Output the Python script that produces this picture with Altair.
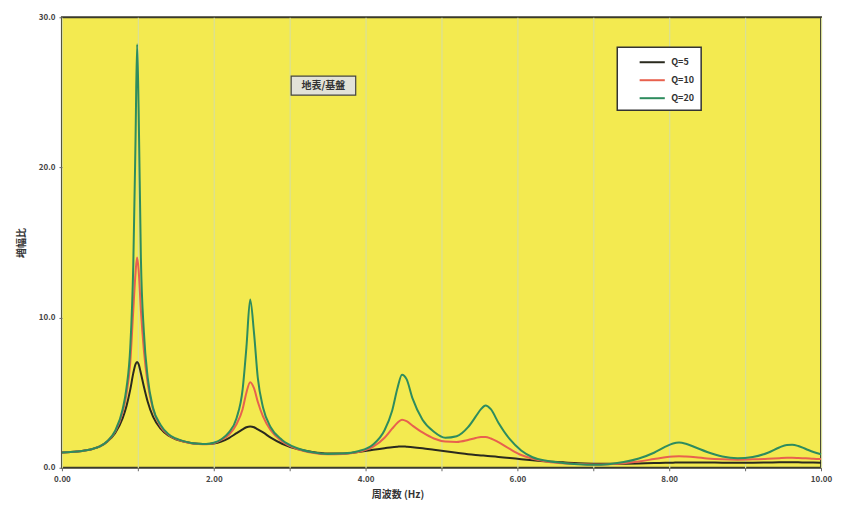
import altair as alt
import pandas as pd

# frequency (Hz)
freq = [0.0, 0.2, 0.4, 0.5, 0.6, 0.7, 0.8, 0.85, 0.9, 0.94, 0.97, 0.99, 1.01, 1.04,
        1.08, 1.13, 1.2, 1.3, 1.4, 1.5, 1.6, 1.7, 1.8, 1.9, 2.0, 2.1, 2.2, 2.3,
        2.38, 2.43, 2.48, 2.53, 2.58, 2.65, 2.75, 2.9, 3.1, 3.3, 3.5, 3.7, 3.9,
        4.1, 4.25, 4.35, 4.42, 4.48, 4.54, 4.62, 4.75, 4.9, 5.05, 5.2, 5.35,
        5.45, 5.52, 5.58, 5.65, 5.75, 5.9, 6.05, 6.2, 6.4, 6.6, 6.8, 7.0, 7.2,
        7.4, 7.6, 7.8, 7.95, 8.05, 8.13, 8.22, 8.35, 8.5, 8.7, 8.9, 9.1, 9.3,
        9.45, 9.55, 9.62, 9.7, 9.8, 9.9, 10.0]

q5 = [1.02, 1.08, 1.25, 1.42, 1.75, 2.3, 3.3, 4.1, 5.2, 6.3, 6.9, 7.05, 6.9, 6.3,
      5.4, 4.4, 3.4, 2.6, 2.15, 1.9, 1.75, 1.65, 1.6, 1.58, 1.62, 1.75, 1.98, 2.3,
      2.55, 2.7, 2.75, 2.7, 2.55, 2.35, 2.0, 1.6, 1.25, 1.05, 0.95, 0.95, 1.05,
      1.2, 1.3, 1.37, 1.4, 1.42, 1.4, 1.37, 1.3, 1.2, 1.1, 1.0, 0.9,
      0.85, 0.82, 0.8, 0.77, 0.72, 0.65, 0.57, 0.5, 0.42, 0.36, 0.3, 0.27, 0.26,
      0.27, 0.29, 0.31, 0.33, 0.34, 0.35, 0.35, 0.35, 0.35, 0.34, 0.34, 0.34, 0.35,
      0.36, 0.36, 0.36, 0.36, 0.35, 0.35, 0.34]

q10 = [1.02, 1.08, 1.25, 1.42, 1.77, 2.4, 3.7, 4.9, 7.0, 10.5, 13.0, 14.0, 13.2, 10.5,
       7.8, 5.6, 3.9, 2.75, 2.2, 1.92, 1.75, 1.63, 1.58, 1.56, 1.63, 1.85, 2.2, 2.9,
       3.9, 5.0, 5.7, 5.3, 4.4, 3.4, 2.5, 1.75, 1.25, 1.0, 0.9, 0.92, 1.05,
       1.4, 2.0, 2.6, 3.0, 3.2, 3.1, 2.8, 2.35, 1.95, 1.75, 1.72, 1.85,
       1.98, 2.05, 2.05, 1.95, 1.7, 1.25, 0.85, 0.6, 0.4, 0.3, 0.25, 0.22, 0.24,
       0.3, 0.42, 0.58, 0.7, 0.75, 0.77, 0.75, 0.7, 0.62, 0.56, 0.54, 0.56, 0.6,
       0.64, 0.66, 0.66, 0.65, 0.63, 0.6, 0.58]

q20 = [1.02, 1.08, 1.25, 1.42, 1.78, 2.45, 3.9, 5.3, 8.0, 13.5, 22.0, 28.2, 24.0, 14.0,
       9.0, 6.0, 4.0, 2.85, 2.25, 1.95, 1.77, 1.65, 1.6, 1.58, 1.66, 1.9, 2.35, 3.3,
       5.2, 8.0, 11.2, 9.0, 6.0, 4.0, 2.7, 1.85, 1.3, 1.03, 0.92, 0.95, 1.1,
       1.55, 2.5, 3.8, 5.3, 6.2, 5.9, 4.6, 3.2, 2.4, 2.0, 2.1, 2.7,
       3.4, 3.9, 4.15, 3.9, 3.0, 1.9, 1.15, 0.7, 0.45, 0.32, 0.24, 0.2, 0.24,
       0.38, 0.62, 1.0, 1.4, 1.62, 1.68, 1.6, 1.35, 1.05, 0.75, 0.64, 0.72, 1.0,
       1.35, 1.52, 1.53, 1.45, 1.25, 1.05, 0.9]

series = ["Q=5", "Q=10", "Q=20"]
series_colors = ["#2a2a1e", "#e8614e", "#2e8c5e"]

x_ticks = [0, 1, 2, 3, 4, 5, 6, 7, 8, 9, 10]
y_ticks = [0, 10, 20, 30]

note_text = ["地表/基盤"]
note_x = [3.02]
note_x2 = [3.87]
note_y = [24.82]
note_y2 = [26.08]

rows = []
for name, vals in zip(series, [q5, q10, q20]):
    for f, v in zip(freq, vals):
        rows.append({"f": f, "v": v, "Q": name})
df = pd.DataFrame(rows)

note_df = pd.DataFrame({"t": note_text, "x": note_x, "x2": note_x2,
                        "y": note_y, "y2": note_y2})
note_df["xm"] = (note_df["x"] + note_df["x2"]) / 2
note_df["ym"] = (note_df["y"] + note_df["y2"]) / 2

xscale = alt.Scale(domain=[0, 10], nice=False)
yscale = alt.Scale(domain=[0, 30], nice=False)

lines = alt.Chart(df).mark_line(strokeWidth=2, interpolate="monotone").encode(
    x=alt.X("f:Q", scale=xscale,
            axis=alt.Axis(values=x_ticks, grid=True, gridColor="#d9df98", gridWidth=1.2,
                          labelExpr="datum.value % 2 == 0 ? format(datum.value, '.2f') : ''",
                          title="周波数 (Hz)", titleFontSize=10, titleFontWeight="bold",
                          titleColor="#333333", titlePadding=6, titleX=336,
                          labelFontSize=8, labelFontWeight="bold", labelColor="#444444",
                          tickSize=3, tickColor="#666666", labelPadding=5, domain=False,
                          labelFlush=False)),
    y=alt.Y("v:Q", scale=yscale,
            axis=alt.Axis(values=y_ticks, grid=False, format=".1f",
                          title="増幅比", titleFontSize=10, titleFontWeight="bold",
                          titleColor="#333333", titlePadding=12,
                          labelFontSize=8, labelFontWeight="bold", labelColor="#444444",
                          tickSize=3, tickColor="#666666", labelPadding=4, domain=False)),
    color=alt.Color("Q:N", scale=alt.Scale(domain=series, range=series_colors),
                    legend=alt.Legend(title=None, orient="none", legendX=556, legendY=30,
                                      fillColor="#ffffff", strokeColor="#333333",
                                      padding=7, symbolType="M-1.8,0H1.8", symbolSize=196,
                                      symbolStrokeWidth=2, symbolOffset=20, labelOffset=11,
                                      rowPadding=5, labelFontSize=9, labelFontWeight="bold",
                                      labelColor="#333333",
                                      labelExpr="datum.label + '\u00a0\u00a0\u00a0\u00a0\u00a0\u00a0\u00a0\u00a0\u00a0\u00a0\u00a0\u00a0'")),
)

box = alt.Chart(note_df).mark_rect(fill="#e2e2d8", stroke="#444444", strokeWidth=1.2).encode(
    x=alt.X("x:Q", scale=xscale), x2="x2:Q",
    y=alt.Y("y:Q", scale=yscale), y2="y2:Q",
)
txt = alt.Chart(note_df).mark_text(fontSize=10, fontWeight="bold", color="#333333").encode(
    x=alt.X("xm:Q", scale=xscale), y=alt.Y("ym:Q", scale=yscale), text="t:N"
)

chart = alt.layer(lines, box, txt).properties(
    width=760, height=451,
    autosize=alt.AutoSizeParams(type="none"),
    padding={"left": 54, "top": 9, "right": 12, "bottom": 35},
).configure(
    font="Noto Sans CJK JP"
).configure_view(
    fill="#f3ea50", stroke="#3a3a2c", strokeWidth=2
).configure_legend(
    strokeWidth=1.5
)

chart.save("out.html", embed_options={"renderer": "svg", "actions": False})
